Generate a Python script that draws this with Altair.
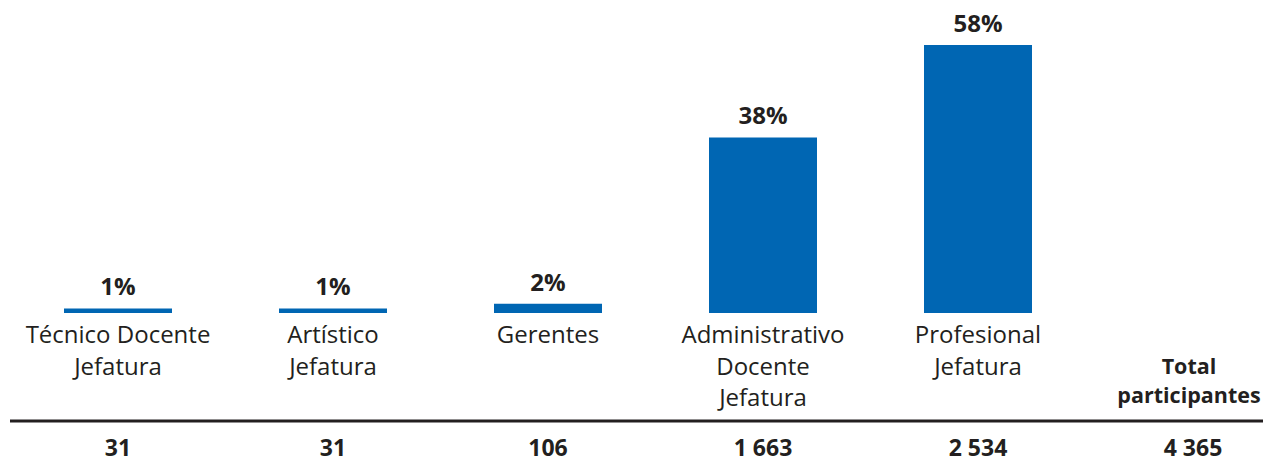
import altair as alt
import pandas as pd

keys = ["tec", "art", "ger", "adm", "pro", "tot"]
labels = [
    "Técnico Docente\nJefatura",
    "Artístico\nJefatura",
    "Gerentes",
    "Administrativo\nDocente\nJefatura",
    "Profesional\nJefatura",
]
total_label = "Total\nparticipantes"
percentages = [1, 1, 2, 38, 58]
counts = [31, 31, 106, 1663, 2534, 4365]

BLUE = "#0066b3"
INK = "#231f20"
FONT = "Open Sans"

bars_df = pd.DataFrame({
    "cat": keys[:5],
    "pct": percentages,
    "pct_label": [f"{p}%" for p in percentages],
    "label": labels,
})
counts_df = pd.DataFrame({
    "cat": keys,
    "count_label": [f"{c:,}".replace(",", " ") for c in counts],
})
total_df = pd.DataFrame({"cat": [keys[5]], "label": [total_label]})
rule_df = pd.DataFrame({"k": [0]})

xscale = alt.Scale(domain=keys, range=[2.5, 1292.5], paddingInner=0, paddingOuter=0)
x = alt.X("cat:N", sort=keys, scale=xscale, axis=None)
yscale = alt.Scale(domain=[0, 66], range=[305, 0])

bars = alt.Chart(bars_df).mark_bar(width=108, color=BLUE).encode(
    x=x, y=alt.Y("pct:Q", scale=yscale, axis=None)
)
pct_text = alt.Chart(bars_df).mark_text(
    font=FONT, fontSize=24, fontWeight="bold", color=INK, baseline="alphabetic", dy=-13
).encode(x=x, y=alt.Y("pct:Q", scale=yscale, axis=None), text="pct_label:N")

cat_text = alt.Chart(bars_df).mark_text(
    font=FONT, fontSize=24, color=INK, baseline="alphabetic", lineBreak="\n", lineHeight=31.5
).encode(x=x, y=alt.value(335), text="label:N")

total_text = alt.Chart(total_df).mark_text(
    font=FONT, fontSize=21.5, fontWeight="bold", color=INK, baseline="alphabetic",
    lineBreak="\n", lineHeight=29, dx=-4
).encode(x=x, y=alt.value(366), text="label:N")

rule = alt.Chart(rule_df).mark_rule(color=INK, strokeWidth=3).encode(
    x=alt.value(2), x2=alt.value(1255), y=alt.value(413)
)

count_text = alt.Chart(counts_df).mark_text(
    font=FONT, fontSize=23, fontWeight="bold", color=INK, baseline="alphabetic"
).encode(x=x, y=alt.value(448), text="count_label:N")

chart = alt.layer(bars, pct_text, cat_text, total_text, rule, count_text).properties(
    width=1255, height=451, autosize=alt.AutoSizeParams(type="none"), padding=0
).configure_view(stroke=None)

chart.save("out.html", embed_options={"renderer": "svg", "actions": False})
